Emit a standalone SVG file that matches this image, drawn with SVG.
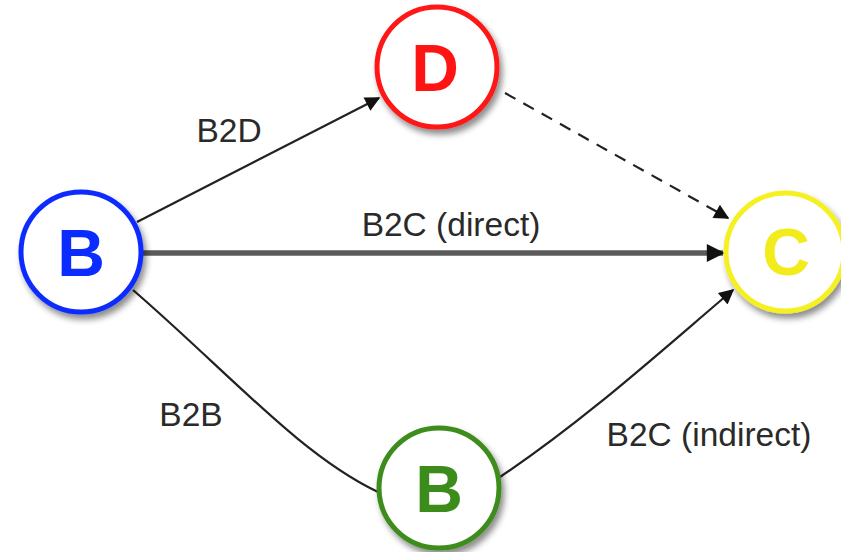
<svg xmlns="http://www.w3.org/2000/svg" width="841" height="552" viewBox="0 0 841 552">
<style>
.node{fill:#fff;stroke-width:5;filter:url(#sh)}
.nl{font-family:"Liberation Sans",Arial,sans-serif;font-weight:bold;font-size:66px;text-anchor:middle}
.el{font-family:"Liberation Sans",Arial,sans-serif;font-size:33.5px;fill:#2a2a2a;text-anchor:middle}
.c{fill:none;stroke:#222;stroke-width:2.2}
</style>
<defs>
<filter id="sh" x="-30%" y="-30%" width="160%" height="160%">
<feDropShadow dx="3" dy="5" stdDeviation="3" flood-color="#000" flood-opacity="0.45"/>
</filter>
<marker id="ahb" viewBox="0 0 10 10" refX="9" refY="5" markerWidth="24" markerHeight="18" markerUnits="userSpaceOnUse" orient="auto">
<path d="M0,0 L10,5 L0,10 z" fill="#111"/>
</marker>
<marker id="ahm" viewBox="0 0 10 10" refX="9" refY="5" markerWidth="20" markerHeight="15" markerUnits="userSpaceOnUse" orient="auto">
<path d="M0,0 L10,5 L0,10 z" fill="#111"/>
</marker>
</defs>
<g id="connectors">
<path id="e-b2d" class="c" d="M137,222 L379,98" marker-end="url(#ahm)"/>
<path id="e-direct" d="M143,253 L723,253" fill="none" stroke="#5a5a5a" stroke-width="5.5" marker-end="url(#ahb)"/>
<path id="e-dc" class="c" d="M505,93 L728,218" stroke-dasharray="12,9" marker-end="url(#ahm)"/>
<path id="e-b2b" class="c" d="M133,290 C228,372 300,455 378,492"/>
<path id="e-indirect" class="c" d="M500,477 C585,420 660,352 733,290" marker-end="url(#ahm)"/>
<text class="el" x="229" y="142">B2D</text>
<text class="el" x="451" y="236">B2C (direct)</text>
<text class="el" x="191" y="426">B2B</text>
<text class="el" x="709" y="446">B2C (indirect)</text>
</g>
<g id="node-d">
<circle class="node" cx="437" cy="67" r="60" stroke="#ff1414"/>
<text class="nl" x="435" y="91" fill="#ff1414">D</text>
</g>
<g id="node-b-blue">
<circle class="node" cx="81" cy="252" r="60" stroke="#0a2cff"/>
<text class="nl" x="81" y="276" fill="#0a2cff">B</text>
</g>
<g id="node-c">
<circle class="node" cx="785" cy="252" r="59" stroke="#f5f020"/>
<text class="nl" x="786" y="275" fill="#f2ec1c">C</text>
</g>
<g id="node-b-green">
<circle class="node" cx="439" cy="488" r="60" stroke="#3c8c1c"/>
<text class="nl" x="439" y="512" fill="#3c8c1c">B</text>
</g>
</svg>
